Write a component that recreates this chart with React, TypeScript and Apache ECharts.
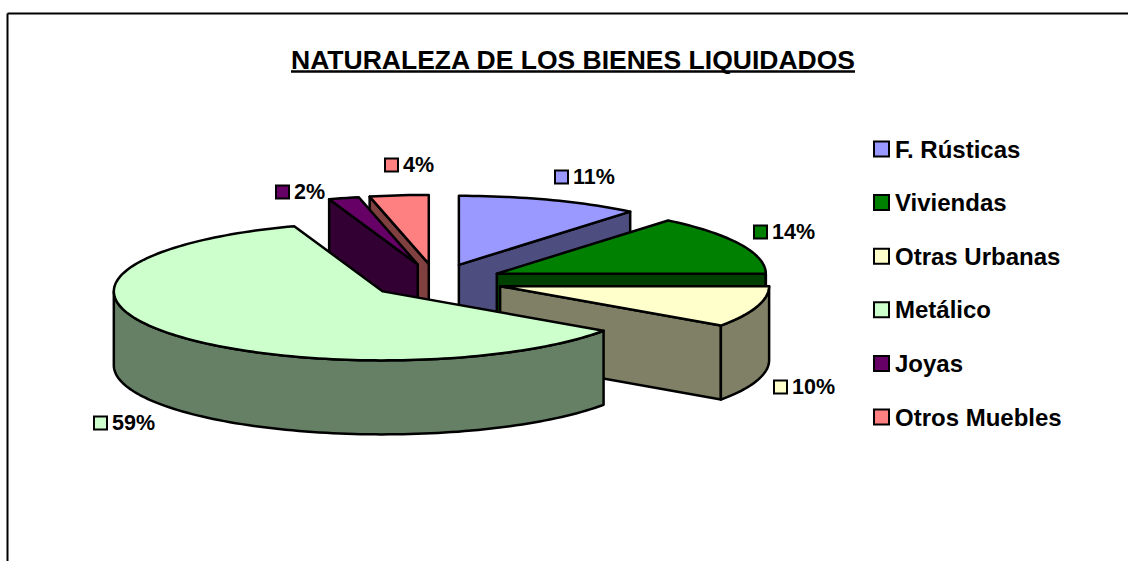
import React, { useEffect, useRef } from "react";
import * as echarts from "echarts";

const TITLE = "NATURALEZA DE LOS BIENES LIQUIDADOS";
const categories = ["F. Rústicas", "Viviendas", "Otras Urbanas", "Metálico", "Joyas", "Otros Muebles"];
const shares = [10.9, 13.9, 9.6, 59.49, 1.8, 3.5];
const percentLabels = ["11%", "14%", "10%", "59%", "2%", "4%"];

const topColors = ["#9999FF", "#008000", "#FFFFCC", "#CCFFCC", "#660066", "#FF8080"];
const sideColors = ["#4D4D80", "#004000", "#808066", "#668066", "#330033", "#804040"];
// Painter's order: back slices first
const drawOrder = [0, 1, 2, 5, 4, 3];

const PIE = { cx: 436.2, cy: 281, rx: 269, ry: 69, depth: 74, explode: 67 };
const FONT = "'Liberation Sans', Arial, sans-serif";
// Key box left edge and vertical centre of each data label
const labelAnchors = [
  [554, 177],
  [753, 232],
  [773, 387],
  [93, 423],
  [275, 192],
  [384, 165],
];

const total = shares.reduce((a, b) => a + b, 0);
const startAngles: number[] = [];
shares.reduce((acc, v, i) => {
  startAngles[i] = acc;
  return acc + (v / total) * 360;
}, 0);

const rad = (d: number) => (d * Math.PI) / 180;

function sliceChildren(i: number) {
  const a = startAngles[i];
  const b = a + (shares[i] / total) * 360;
  const mid = (a + b) / 2;
  const ox = PIE.cx + PIE.explode * Math.sin(rad(mid));
  const oy = PIE.cy - PIE.explode * (PIE.ry / PIE.rx) * Math.cos(rad(mid));
  const P = (t: number): number[] => [ox + PIE.rx * Math.sin(rad(t)), oy - PIE.ry * Math.cos(rad(t))];
  const down = (p: number[]) => [p[0], p[1] + PIE.depth];
  const arc = (s: number, e: number) => {
    const n = Math.max(2, Math.ceil(Math.abs(e - s) / 1.5));
    const pts: number[][] = [];
    for (let k = 0; k <= n; k++) pts.push(P(s + ((e - s) * k) / n));
    return pts;
  };
  const poly = (points: number[][], fill: string) => ({
    type: "polygon",
    shape: { points },
    style: { fill, stroke: "#000", lineWidth: 2.5, lineJoin: "round" },
  });
  const kids: any[] = [];
  const apex = [ox, oy];
  const radialFace = (t: number) => {
    const p = P(t);
    kids.push(poly([apex, p, down(p), down(apex)], sideColors[i]));
  };
  // A radial wall is seen only when it turns towards the viewer
  if (Math.sin(rad(a)) < -1e-6) radialFace(a);
  if (Math.sin(rad(b)) > 1e-6) radialFace(b);
  // Outer rim: the part of the arc on the front half
  const rimS = Math.max(a, 90);
  const rimE = Math.min(b, 270);
  if (rimE > rimS) {
    const upper = arc(rimS, rimE);
    kids.push(poly([...upper, ...upper.slice().reverse().map(down)], sideColors[i]));
  }
  kids.push(poly([apex, ...arc(a, b)], topColors[i]));
  return kids;
}

function labelChildren(i: number) {
  const [x, y] = labelAnchors[i];
  return [
    {
      type: "rect",
      shape: { x: x + 1, y: y - 6.5, width: 13, height: 13 },
      style: { fill: topColors[i], stroke: "#000", lineWidth: 2 },
      z2: 50,
    },
    {
      type: "text",
      x: x + 19,
      y,
      style: { text: percentLabels[i], font: `bold 21.5px ${FONT}`, fill: "#000", verticalAlign: "middle", align: "left" },
      z2: 50,
    },
  ];
}

export default function App() {
  const ref = useRef<HTMLDivElement>(null);
  useEffect(() => {
    document.body.style.margin = "0";
    const chart = echarts.init(ref.current!, null, { renderer: "svg" });
    chart.setOption({
      animation: false,
      backgroundColor: "#fff",
      title: {
        text: TITLE,
        left: 568,
        top: 41,
        textAlign: "center",
        textStyle: { fontFamily: FONT, fontWeight: "bold", fontSize: 26.5, color: "#000" },
      },
      legend: {
        orient: "vertical",
        left: 868,
        top: 132,
        itemWidth: 15,
        itemHeight: 15,
        itemGap: 29.6,
        data: categories.map((name, i) => ({
          name,
          icon: "rect",
          itemStyle: { color: topColors[i], borderColor: "#000", borderWidth: 2 },
        })),
        selectedMode: false,
        textStyle: { fontFamily: FONT, fontWeight: "bold", fontSize: 24, color: "#000", padding: [0, 0, 0, 1] },
      },
      graphic: [
        { type: "line", shape: { x1: 7.5, y1: 13.5, x2: 1128, y2: 13.5 }, style: { stroke: "#000", lineWidth: 2 } },
        { type: "line", shape: { x1: 7.5, y1: 13.5, x2: 7.5, y2: 561 }, style: { stroke: "#000", lineWidth: 2 } },
        { type: "line", shape: { x1: 291, y1: 71.5, x2: 855, y2: 71.5 }, style: { stroke: "#000", lineWidth: 2.5 } },
      ],
      series: drawOrder.map((i) => ({
        type: "custom",
        name: categories[i],
        coordinateSystem: "none",
        silent: true,
        itemStyle: { color: topColors[i] },
        data: [shares[i]],
        renderItem: () => ({
          type: "group",
          children: [...sliceChildren(i), ...labelChildren(i)],
        }),
      })),
    });
    return () => chart.dispose();
  }, []);
  return <div ref={ref} style={{ width: 1128, height: 561 }} />;
}
